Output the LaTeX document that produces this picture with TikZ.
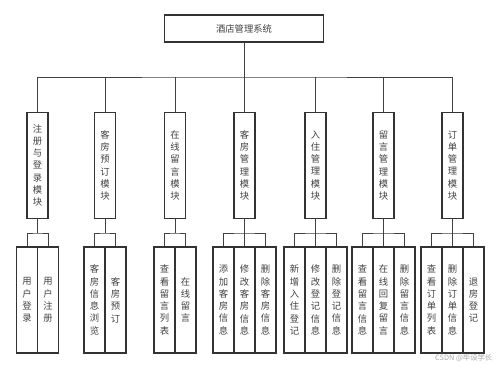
\documentclass[tikz,border=0pt]{standalone}
\usepackage{fontspec}
\setmainfont{Noto Sans CJK SC}
\begin{document}
\begin{tikzpicture}[x=0.75pt,y=-0.75pt,
  every node/.style={font=\fontsize{7}{9.2}\selectfont, text=black!75},
  topbox/.style={draw=black!80, line width=0.8pt, minimum width=119.25pt, minimum height=20.25pt, inner sep=0pt},
  modbox/.style={draw=black!80, line width=0.8pt, minimum width=15.75pt, minimum height=79pt, inner sep=0pt, align=center},
  leafbox/.style={draw=black!80, line width=0.8pt, minimum width=15.75pt, minimum height=79.5pt, inner sep=0pt, align=center},
  conn/.style={draw=black!75, line width=0.75pt}]
\useasboundingbox (0,0) rectangle (499,368);
% top
\node[topbox] (top) at (244,28.5) {酒店管理系统};
% modules
\node[modbox] (m1) at (37.5,165.4) {注\\册\\与\\登\\录\\模\\块};
\node[modbox] (m2) at (105,165.4) {客\\房\\预\\订\\模\\块};
\node[modbox] (m3) at (175,165.4) {在\\线\\留\\言\\模\\块};
\node[modbox] (m4) at (244.5,165.4) {客\\房\\管\\理\\模\\块};
\node[modbox] (m5) at (315.5,165.4) {入\\住\\管\\理\\模\\块};
\node[modbox] (m6) at (383.5,165.4) {留\\言\\管\\理\\模\\块};
\node[modbox] (m7) at (452.5,165.4) {订\\单\\管\\理\\模\\块};
% leaves
\node[leafbox] (l1a) at (27,300) {用\\户\\登\\录};
\node[leafbox] (l1b) at (48,300) {用\\户\\注\\册};
\node[leafbox] (l2a) at (94.5,300) {客\\房\\信\\息\\浏\\览};
\node[leafbox] (l2b) at (115.5,300) {客\\房\\预\\订};
\node[leafbox] (l3a) at (164.5,300) {查\\看\\留\\言\\列\\表};
\node[leafbox] (l3b) at (185.5,300) {在\\线\\留\\言};
\node[leafbox] (l4a) at (223.5,300) {添\\加\\客\\房\\信\\息};
\node[leafbox] (l4b) at (244.5,300) {修\\改\\客\\房\\信\\息};
\node[leafbox] (l4c) at (265.5,300) {删\\除\\客\\房\\信\\息};
\node[leafbox] (l5a) at (294.5,300) {新\\增\\入\\住\\登\\记};
\node[leafbox] (l5b) at (315.5,300) {修\\改\\登\\记\\信\\息};
\node[leafbox] (l5c) at (336.5,300) {删\\除\\登\\记\\信\\息};
\node[leafbox] (l6a) at (362.5,300) {查\\看\\留\\言\\信\\息};
\node[leafbox] (l6b) at (383.5,300) {在\\线\\回\\复\\留\\言};
\node[leafbox] (l6c) at (404.5,300) {删\\除\\留\\言\\信\\息};
\node[leafbox] (l7a) at (431.5,300) {查\\看\\订\\单\\列\\表};
\node[leafbox] (l7b) at (452.5,300) {删\\除\\订\\单\\信\\息};
\node[leafbox] (l7c) at (473.5,300) {退\\房\\登\\记};
% bus coordinates
\coordinate (bus) at (244,77);
\coordinate (g1) at (37.5,233);
\coordinate (g2) at (105,233);
\coordinate (g3) at (175,233);
\coordinate (g4) at (244.5,233);
\coordinate (g5) at (315.5,233);
\coordinate (g6) at (383.5,233);
\coordinate (g7) at (452.5,233);
% top connectors
\draw[conn] (top.south) -- (bus);
\draw[conn] (m1.north) |- (bus) -| (m7.north);
\foreach \m in {m2,m3,m4,m5,m6}{\draw[conn] (\m.north) -- (\m.north |- bus);}
% group connectors
\foreach \i in {1,...,7}{\draw[conn] (m\i.south) -- (g\i);}
\draw[conn] (l1a.north) |- (g1) -| (l1b.north);
\draw[conn] (l2a.north) |- (g2) -| (l2b.north);
\draw[conn] (l3a.north) |- (g3) -| (l3b.north);
\draw[conn] (l4a.north) |- (g4) -| (l4c.north);
\draw[conn] (l4b.north) -- (g4);
\draw[conn] (l5a.north) |- (g5) -| (l5c.north);
\draw[conn] (l5b.north) -- (g5);
\draw[conn] (l6a.north) |- (g6) -| (l6c.north);
\draw[conn] (l6b.north) -- (g6);
\draw[conn] (l7a.north) |- (g7) -| (l7c.north);
\draw[conn] (l7b.north) -- (g7);
% watermark
\node[font=\fontsize{5.5}{6}\selectfont, text=black!35, anchor=east] (wm) at (497,358) {CSDN @毕设学长};
\end{tikzpicture}
\end{document}
